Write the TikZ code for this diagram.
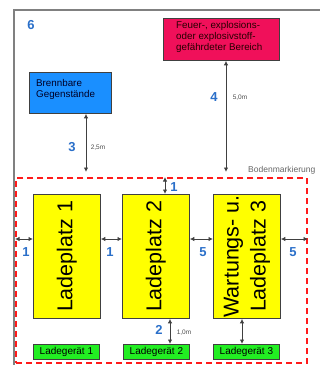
\documentclass[tikz,border=0pt]{standalone}
\usepackage{fontspec}
\setmainfont{Liberation Sans}
\usetikzlibrary{arrows.meta}
\definecolor{numblue}{HTML}{2A6FC9}
\definecolor{firered}{HTML}{F0105A}
\definecolor{objblue}{HTML}{1A8FFF}
\definecolor{padyellow}{HTML}{FFFF00}
\definecolor{chggreen}{HTML}{22EE22}
\definecolor{zonered}{HTML}{FF1A1A}
\tikzset{
  box/.style={draw=black!75, line width=0.8pt, inner sep=0pt},
  padbox/.style={box, fill=padyellow, minimum width=67pt, minimum height=124pt},
  chgbox/.style={box, fill=chggreen, minimum width=66pt, minimum height=15pt, font=\fontsize{10}{12}\selectfont},
  num/.style={text=numblue, font=\fontsize{13}{14}\selectfont\bfseries, inner sep=0pt},
  dist/.style={text=black!70, font=\fontsize{6.5}{7}\selectfont, inner sep=0pt},
  meas/.style={draw=black!75, line width=0.9pt, {Latex[length=4.5pt,width=4.5pt]}-{Latex[length=4.5pt,width=4.5pt]}},
}
\begin{document}
\begin{tikzpicture}[x=1pt, y=-1pt]
\useasboundingbox (0,0) rectangle (320,365);
\clip (0,0) rectangle (320,365);
% outer frame
\draw[black!50, line width=1.5pt] (14,370) -- (14,10) -- (330,10);
\node[num] (n6) at (31,25) {6};
% top boxes
\node[box, fill=firered, minimum width=116pt, minimum height=42pt, anchor=north west] (fire) at (163,18) {};
\node[anchor=north west, align=left, inner sep=0pt, text=black!85!red, font=\fontsize{9.8}{11.3}\selectfont] (firetxt) at (176,21) {Feuer-, explosions-\\oder explosivstoff-\\gefährdeter Bereich};
\node[box, fill=objblue, minimum width=82pt, minimum height=41pt, anchor=north west] (obj) at (29,72) {};
\node[anchor=north west, align=left, inner sep=0pt, text=black!85!blue, font=\fontsize{9.8}{11.3}\selectfont] (objtxt) at (36,79) {Brennbare\\Gegenstände};
% zone
\node[draw=zonered, dashed, dash pattern=on 6pt off 4pt, line width=2pt, minimum width=291pt, minimum height=185pt, anchor=north west, inner sep=0pt] (zone) at (15,177) {};
\node[anchor=west, text=black!60, font=\fontsize{8.5}{9}\selectfont, inner sep=0pt] (boden) at (248,170) {Bodenmarkierung};
% pads
\node[padbox, anchor=north west] (lp1) at (33,194) {};
\node[padbox, anchor=north west] (lp2) at (122,194) {};
\node[padbox, anchor=north west] (lp3) at (213,194) {};
\node[rotate=90, font=\fontsize{21.5}{24}\selectfont, inner sep=0pt] (lp1t) at (lp1.center) {Ladeplatz 1};
\node[rotate=90, font=\fontsize{21.5}{24}\selectfont, inner sep=0pt] (lp2t) at (lp2.center) {Ladeplatz 2};
\node[rotate=90, align=center, font=\fontsize{21.5}{27}\selectfont, inner sep=0pt] (lp3t) at (lp3.center) {Wartungs- u.\\Ladeplatz 3};
% chargers
\node[chgbox, anchor=north west] (ch1) at (33,344) {Ladegerät 1};
\node[chgbox, anchor=north west] (ch2) at (123,344) {Ladegerät 2};
\node[chgbox, anchor=north west] (ch3) at (213,344) {Ladegerät 3};
% helper coordinates
\coordinate (a3) at (86,0);
\coordinate (a4) at (226,0);
\coordinate (a1) at (165,0);
\coordinate (a2) at (170,0);
\coordinate (a5) at (242,0);
\coordinate (hy) at (0,239);
\coordinate (zt) at (0,172);
% distance arrows
\draw[meas] (obj.south -| a3) -- (zt -| a3);
\node[num] (n3) at (72,147) {3};
\node[dist] (d3) at (98,148) {2,5m};
\draw[meas] (fire.south -| a4) -- (zt -| a4);
\node[num] (n4) at (214,97) {4};
\node[dist] (d4) at (240,98) {5,0m};
\draw[meas] (zone.north -| a1) -- (lp2.north -| a1);
\node[num] (n1t) at (174,187) {1};
\draw[meas] (zone.west |- hy) -- (lp1.west |- hy);
\draw[meas] (lp1.east |- hy) -- (lp2.west |- hy);
\draw[meas] (lp2.east |- hy) -- (lp3.west |- hy);
\draw[meas] (lp3.east |- hy) -- (zone.east |- hy);
\node[num] (n1a) at (26,252) {1};
\node[num] (n1b) at (110,252) {1};
\node[num] (n5a) at (203,252) {5};
\node[num] (n5b) at (293,252) {5};
\draw[meas] (lp2.south -| a2) -- (ch2.north -| a2);
\node[num] (n2) at (159,330) {2};
\node[dist] (d2) at (184,333) {1,0m};
\draw[meas] (lp3.south -| a5) -- (ch3.north -| a5);
\end{tikzpicture}
\end{document}
